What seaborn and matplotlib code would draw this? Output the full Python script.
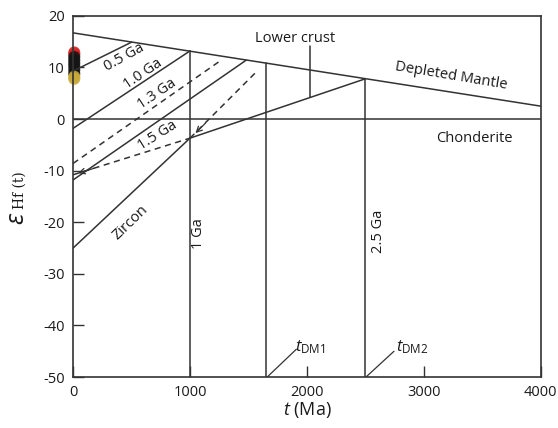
import numpy as np
import pandas as pd
import matplotlib
matplotlib.use("Agg")
import matplotlib.pyplot as plt
import seaborn as sns

# model lines (t in Ma, epsilon Hf)
dm_t = [0, 4000]
dm_eps = [16.7, 2.5]
chur_t = [0, 4000]
chur_eps = [0, 0]
ga05_t = [0, 500]
ga05_eps = [9.3, 14.9]
ga10_t = [0, 1000]
ga10_eps = [-1.8, 13.2]
ga13_dash_t = [0, 1260]
ga13_dash_eps = [-8.6, 11.3]
ga15_t = [0, 1480]
ga15_eps = [-11.8, 11.4]
back_dash_t = [0, 1000]
back_dash_eps = [-10.8, -3.7]
up_dash_t = [1000, 1570]
up_dash_eps = [-3.7, 9.2]
zircon_t = [0, 1000]
zircon_eps = [-25.0, -3.7]
lower_crust_t = [1000, 2500]
lower_crust_eps = [-3.7, 7.8]

# vertical age lines (bottom -> depleted mantle)
vert_t = [1000, 1650, 2500]
vert_top = [13.2, 10.8, 7.8]

# zircon analyses near t = 0
pts_t = [10, 10, 10, 10, 10, 10, 10, 10, 10, 10]
pts_eps = [12.9, 12.5, 12.0, 11.4, 10.8, 10.2, 9.5, 8.8, 8.2, 7.8]
pts_grp = ["red", "red", "black", "black", "black", "black", "black", "black", "yellow", "yellow"]

sns.set_style("ticks")
plt.rcParams["font.family"] = ["Open Sans", "DejaVu Sans"]
plt.rcParams["axes.unicode_minus"] = False
plt.rcParams["mathtext.fontset"] = "custom"
plt.rcParams["mathtext.it"] = "Open Sans:italic"
plt.rcParams["mathtext.rm"] = "Open Sans"

fig = plt.figure(figsize=(5.58, 4.28), dpi=100)
ax = fig.add_axes([0.131, 0.119, 0.838, 0.844])

lc = "#333333"
lw = 1.1


def seg(xs, ys, **kw):
    sns.lineplot(x=xs, y=ys, ax=ax, color=lc, sort=False, estimator=None,
                 lw=kw.pop("lw", lw), **kw)


solid = [(dm_t, dm_eps), (chur_t, chur_eps), (ga05_t, ga05_eps), (ga10_t, ga10_eps),
         (ga15_t, ga15_eps), (zircon_t, zircon_eps), (lower_crust_t, lower_crust_eps)]
for xs, ys in solid:
    seg(xs, ys)
for xs, ys in [(ga13_dash_t, ga13_dash_eps), (back_dash_t, back_dash_eps), (up_dash_t, up_dash_eps)]:
    seg(xs, ys, linestyle=(0, (4, 3)))
for t, top in zip(vert_t, vert_top):
    seg([t, t], [-50, top])

# lower crust pointer and t_DM leaders
seg([2030, 2030], [4.2, 14.2])
seg([1660, 1910], [-50, -44.6], lw=0.9)
seg([2505, 2745], [-50, -45], lw=0.9)

# small arrow heads on dashed back-projection lines
ax.annotate("", xy=(back_dash_t[0] + 20, back_dash_eps[0] + 0.15),
            xytext=(back_dash_t[0] + 200, back_dash_eps[0] + 1.4),
            arrowprops=dict(arrowstyle="->", color=lc, lw=0.9))
ax.annotate("", xy=(up_dash_t[0] + 30, up_dash_eps[0] + 0.6),
            xytext=(up_dash_t[0] + 150, up_dash_eps[0] + 3.3),
            arrowprops=dict(arrowstyle="->", color=lc, lw=0.9))

df = pd.DataFrame({"t": pts_t, "eps": pts_eps, "grp": pts_grp})
pal = {"red": "#d42020", "black": "#151515", "yellow": "#c9a93a"}
sns.scatterplot(data=df, x="t", y="eps", hue="grp", palette=pal, s=75,
                edgecolor="none", legend=False, ax=ax, alpha=0.9)
for c in ax.collections:
    c.set_clip_on(False)

fs = 10.5
tc = "#1a1a1a"
ax.text(434, 12.0, "0.5 Ga", rotation=29, ha="center", va="center", fontsize=fs, color=tc)
ax.text(594, 8.7, "1.0 Ga", rotation=34, ha="center", va="center", fontsize=fs, color=tc)
ax.text(721, 4.8, "1.3 Ga", rotation=34, ha="center", va="center", fontsize=fs, color=tc)
ax.text(721, -3.1, "1.5 Ga", rotation=32, ha="center", va="center", fontsize=fs, color=tc)
ax.text(494, -20.1, "Zircon", rotation=44, ha="center", va="center", fontsize=fs, color=tc)
ax.text(1895, 15.7, "Lower crust", ha="center", va="center", fontsize=fs, color=tc)
ax.text(3234, 8.3, "Depleted Mantle", rotation=-9.5, ha="center", va="center", fontsize=fs, color=tc)
ax.text(3433, -3.7, "Chonderite", ha="center", va="center", fontsize=fs, color=tc)
ax.text(1076, -22.2, "1 Ga", rotation=90, ha="center", va="center", fontsize=fs, color=tc)
ax.text(2610, -21.8, "2.5 Ga", rotation=90, ha="center", va="center", fontsize=fs, color=tc)
ax.text(1895, -44.2, r"$t_{\mathrm{DM1}}$", ha="left", va="center", fontsize=12, color=tc)
ax.text(2765, -44.2, r"$t_{\mathrm{DM2}}$", ha="left", va="center", fontsize=12, color=tc)

ax.set_xlim(0, 4000)
ax.set_ylim(-50, 20)
ax.set_xticks([0, 1000, 2000, 3000, 4000])
ax.set_yticks([-50, -40, -30, -20, -10, 0, 10, 20])
ax.tick_params(direction="in", length=8, width=1, colors=lc, labelcolor=tc, labelsize=fs, pad=6)
for s in ax.spines.values():
    s.set_color(lc)
    s.set_linewidth(1.2)
ax.set_xlabel(r"$t$ (Ma)", fontsize=13, labelpad=0, color=tc)
ax.set_ylabel("")
fig.text(0.032, 0.49, r"$\epsilon$", fontsize=18, rotation=90, ha="center", va="center",
         family="DejaVu Serif", color=tc)
fig.text(0.036, 0.555, "Hf (t)", fontsize=10, rotation=90, ha="center", va="center",
         family="DejaVu Serif", color=tc)

fig.savefig("out.png", dpi=100)
